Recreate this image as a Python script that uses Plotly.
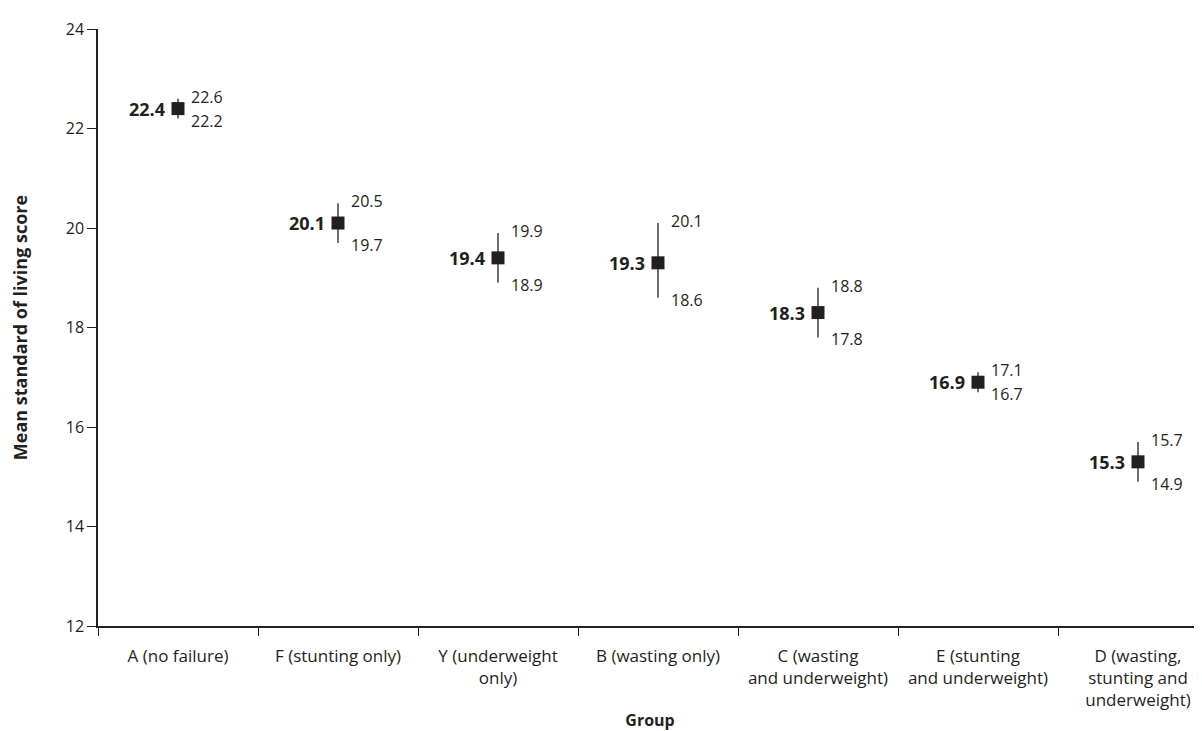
import plotly.graph_objects as go

groups = [
    "A (no failure)",
    "F (stunting only)",
    "Y (underweight<br>only)",
    "B (wasting only)",
    "C (wasting<br>and underweight)",
    "E (stunting<br>and underweight)",
    "D (wasting,<br>stunting and<br>underweight)",
]
means = [22.4, 20.1, 19.4, 19.3, 18.3, 16.9, 15.3]
upper = [22.6, 20.5, 19.9, 20.1, 18.8, 17.1, 15.7]
lower = [22.2, 19.7, 18.9, 18.6, 17.8, 16.7, 14.9]
y_ticks = [12, 14, 16, 18, 20, 22, 24]

INK = "#231f20"
FONT = "Open Sans"

fig = go.Figure()
fig.add_trace(go.Scatter(
    x=groups,
    y=means,
    mode="markers",
    marker=dict(symbol="square", size=13, color=INK),
    error_y=dict(
        type="data",
        symmetric=False,
        array=[u - m for u, m in zip(upper, means)],
        arrayminus=[m - l for m, l in zip(means, lower)],
        thickness=1.3,
        width=0,
        color=INK,
    ),
    showlegend=False,
    cliponaxis=False,
))

annotations = []
for g, m, u, l in zip(groups, means, upper, lower):
    annotations.append(dict(
        x=g, y=m, text=f"<b>{m:.1f}</b>", showarrow=False,
        xanchor="right", yanchor="middle", xshift=-11,
        font=dict(family=FONT, size=18, color=INK),
    ))
    annotations.append(dict(
        x=g, y=u, text=f"{u:.1f}", showarrow=False,
        xanchor="left", yanchor="middle", xshift=11, yshift=2,
        font=dict(family=FONT, size=16, color=INK),
    ))
    annotations.append(dict(
        x=g, y=l, text=f"{l:.1f}", showarrow=False,
        xanchor="left", yanchor="middle", xshift=11, yshift=-2,
        font=dict(family=FONT, size=16, color=INK),
    ))

fig.update_layout(
    width=1194,
    height=723,
    margin=dict(l=90, r=0, t=21, b=105),
    paper_bgcolor="white",
    plot_bgcolor="white",
    font=dict(family=FONT, size=16, color=INK),
    annotations=annotations,
    xaxis=dict(
        type="category",
        categoryorder="array",
        categoryarray=groups,
        range=[-0.5, 6.4],
        tickson="boundaries",
        ticks="outside",
        ticklen=8,
        tickwidth=1.3,
        tickcolor=INK,
        showline=True,
        linecolor=INK,
        linewidth=1.5,
        showgrid=False,
        zeroline=False,
        automargin=False,
        ticklabelstandoff=14,
        tickfont=dict(family=FONT, size=17, color=INK),
        title=dict(text="<b>Group</b>", font=dict(family=FONT, size=16, color=INK), standoff=4),
    ),
    yaxis=dict(
        range=[12, 24],
        tickvals=y_ticks,
        ticktext=[str(t) for t in y_ticks],
        ticks="outside",
        ticklen=9,
        tickwidth=1.3,
        tickcolor=INK,
        showline=True,
        linecolor=INK,
        linewidth=1.5,
        showgrid=False,
        zeroline=False,
        automargin=False,
        tickfont=dict(family=FONT, size=16, color=INK),
        title=dict(text="<b>Mean standard of living score</b>", font=dict(family=FONT, size=18, color=INK), standoff=36),
    ),
)

fig.write_html("out.html")
